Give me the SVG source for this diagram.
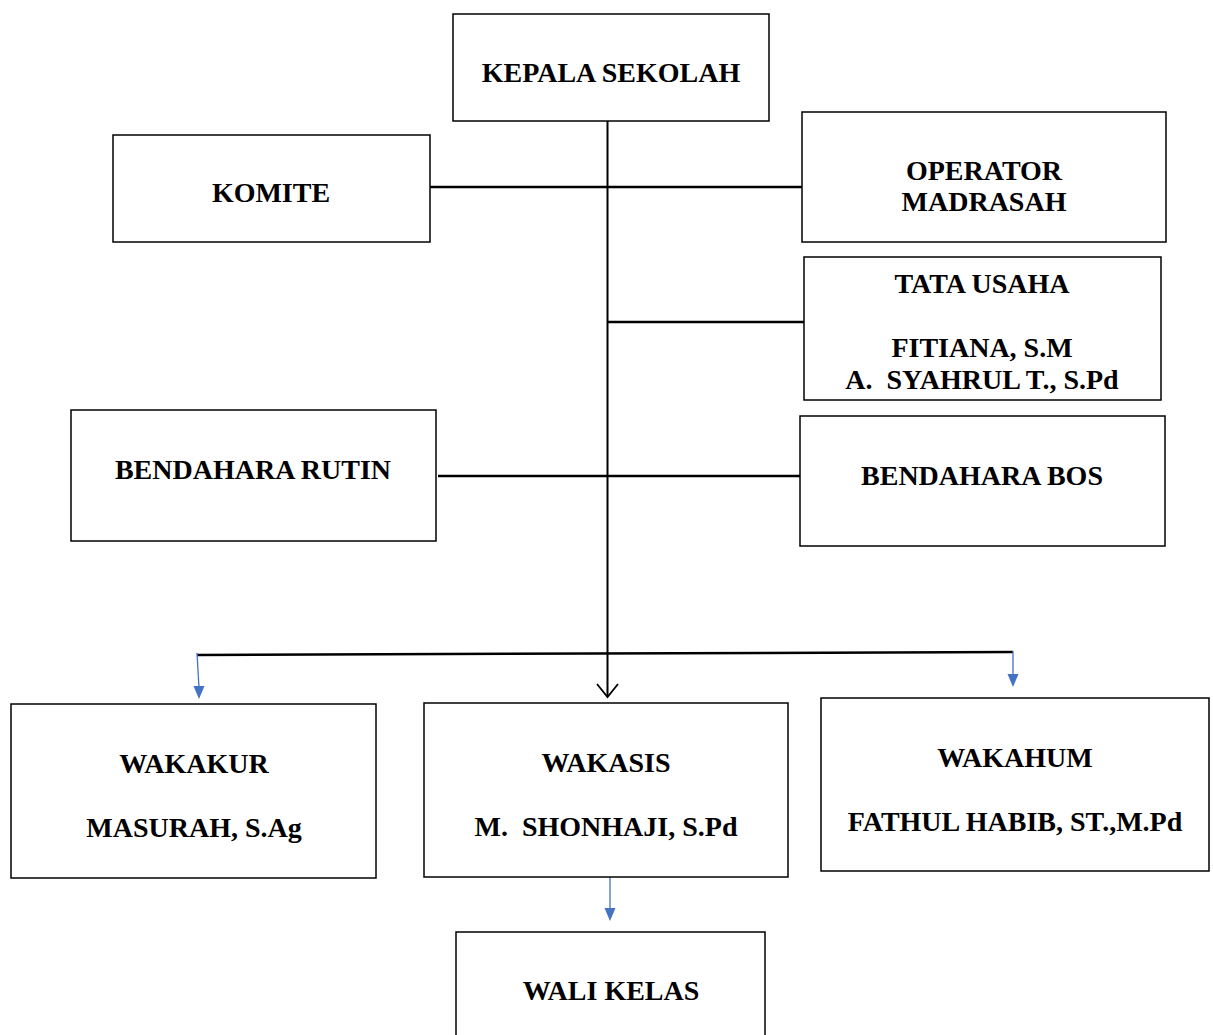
<svg xmlns="http://www.w3.org/2000/svg" width="1213" height="1035" viewBox="0 0 1213 1035">
<defs>
<style>
.box{fill:#fff;stroke:#000;stroke-width:1.5}
.t{font-family:"Liberation Serif","Times New Roman",serif;font-weight:bold;font-size:28px;fill:#000;text-anchor:middle}
.ln{stroke:#000;stroke-width:2.5;fill:none}
.bl{stroke:#4472c4;stroke-width:1.3;fill:none}
</style>
</defs>
<rect width="1213" height="1035" fill="#fff"/>
<g id="connectors">
<line class="ln" x1="430" y1="187" x2="802" y2="187"/>
<line class="ln" x1="607" y1="322" x2="804" y2="322"/>
<line class="ln" x1="438" y1="476" x2="800" y2="476"/>
<line class="ln" x1="197" y1="655" x2="1013" y2="652"/>
<line x1="607.5" y1="121" x2="607.5" y2="697" stroke="#000" stroke-width="2"/>
<polyline points="597,684 607.5,697 618,684" fill="none" stroke="#000" stroke-width="1.8"/>
<line class="bl" x1="197" y1="653" x2="199" y2="688"/>
<path d="M193.5,686 L204.5,686 L199,699 Z" fill="#4472c4"/>
<line class="bl" x1="1013" y1="651" x2="1013" y2="676"/>
<path d="M1007.5,674 L1018.5,674 L1013,687 Z" fill="#4472c4"/>
<line class="bl" x1="610" y1="877" x2="610" y2="910"/>
<path d="M604.5,908 L615.5,908 L610,921 Z" fill="#4472c4"/>
</g>
<g id="kepala"><rect class="box" x="453" y="14" width="316" height="107"/><text class="t" x="611" y="82">KEPALA SEKOLAH</text></g>
<g id="komite"><rect class="box" x="113" y="135" width="317" height="107"/><text class="t" x="271" y="202">KOMITE</text></g>
<g id="operator"><rect class="box" x="802" y="112" width="364" height="130"/><text class="t" x="984" y="180">OPERATOR</text><text class="t" x="984" y="211">MADRASAH</text></g>
<g id="tatausaha"><rect class="box" x="804" y="257" width="357" height="143"/><text class="t" x="982" y="293">TATA USAHA</text><text class="t" x="982" y="357">FITIANA, S.M</text><text class="t" x="982" y="389" xml:space="preserve">A.  SYAHRUL T., S.Pd</text></g>
<g id="bendahara-rutin"><rect class="box" x="71" y="410" width="365" height="131"/><text class="t" x="253" y="479">BENDAHARA RUTIN</text></g>
<g id="bendahara-bos"><rect class="box" x="800" y="416" width="365" height="130"/><text class="t" x="982" y="485">BENDAHARA BOS</text></g>
<g id="wakakur"><rect class="box" x="11" y="704" width="365" height="174"/><text class="t" x="194" y="773">WAKAKUR</text><text class="t" x="194" y="837">MASURAH, S.Ag</text></g>
<g id="wakasis"><rect class="box" x="424" y="703" width="364" height="174"/><text class="t" x="606" y="772">WAKASIS</text><text class="t" x="606" y="836" xml:space="preserve">M.  SHONHAJI, S.Pd</text></g>
<g id="wakahum"><rect class="box" x="821" y="698" width="388" height="173"/><text class="t" x="1015" y="767">WAKAHUM</text><text class="t" x="1015" y="831">FATHUL HABIB, ST.,M.Pd</text></g>
<g id="walikelas"><rect class="box" x="456" y="932" width="309" height="120"/><text class="t" x="611" y="1000">WALI KELAS</text></g>
</svg>
